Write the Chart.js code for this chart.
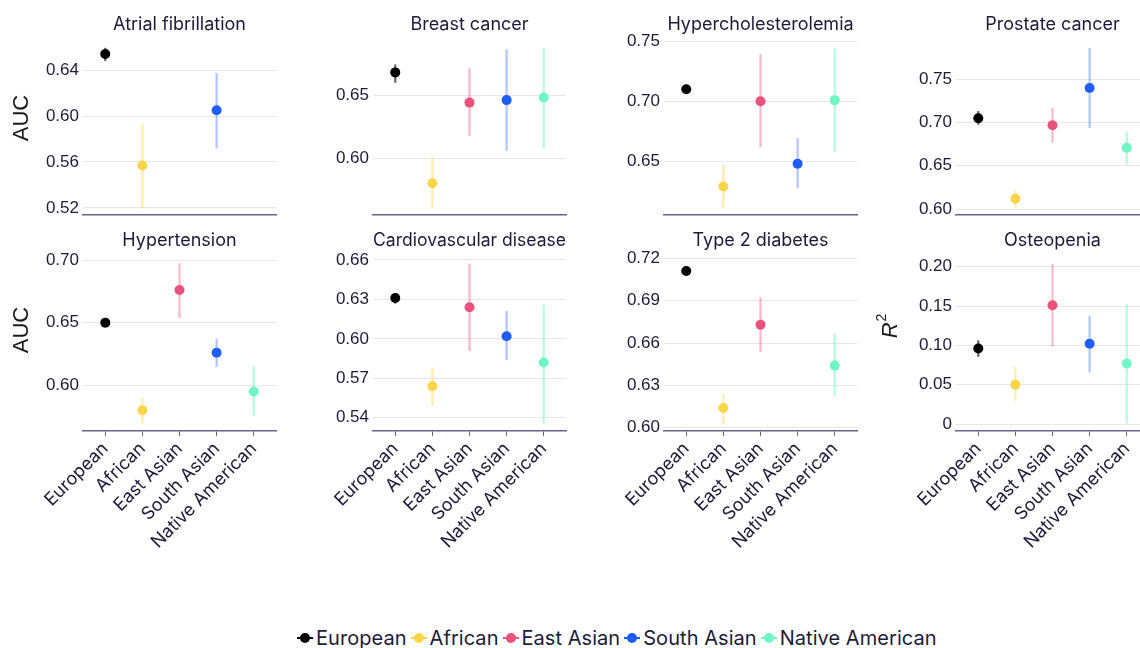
<!DOCTYPE html>
<html>
<head>
<meta charset="utf-8">
<title>Prediction accuracy by ancestry</title>
<script src="https://cdn.jsdelivr.net/npm/chart.js@4.4.1/dist/chart.umd.min.js"></script>
<style>
  html, body { margin: 0; padding: 0; background: #fff; }
  body { width: 1140px; height: 648px; overflow: hidden; position: relative; font-family: Inter, "Noto Sans", sans-serif; }
  canvas { position: absolute; }
  #legend { position: absolute; left: 297px; top: 624px; white-space: nowrap; font-size: 20px; color: #1c1c3a; line-height: 26px; letter-spacing: 0.05px; }
  #legend .item { display: inline-flex; align-items: center; margin-right: 4px; }
  #legend .mk { position: relative; display: inline-block; width: 16px; height: 12px; margin-right: 3px; }
  #legend .mk::before { content: ''; position: absolute; left: 0; right: 0; top: 5px; height: 2px; background: var(--c); }
  #legend .mk::after { content: ''; position: absolute; left: 3px; top: 1px; width: 10px; height: 10px; border-radius: 50%; background: var(--c); }
</style>
</head>
<body>
<div id="legend"></div>
<script>
// groups shown on every panel
const groups = ['European', 'African', 'East Asian', 'South Asian', 'Native American'];
const groupColors = ['#000000', '#fad54a', '#e8527c', '#1f5ef5', '#70f5c5'];
const barColors = ['rgba(0,0,0,0.6)', 'rgba(250,213,74,0.45)', 'rgba(232,82,124,0.4)', 'rgba(31,94,245,0.35)', 'rgba(112,245,197,0.5)'];

// Atrial fibrillation (AUC)
const afMean = [0.654, 0.557, null, 0.605, null];
const afLow  = [0.648, 0.520, null, 0.572, null];
const afHigh = [0.659, 0.593, null, 0.637, null];
const afTicks = [0.52, 0.56, 0.60, 0.64];

// Breast cancer (AUC)
const bcMean = [0.668, 0.580, 0.644, 0.646, 0.648];
const bcLow  = [0.660, 0.561, 0.618, 0.606, 0.608];
const bcHigh = [0.674, 0.600, 0.671, 0.686, 0.687];
const bcTicks = [0.60, 0.65];

// Hypercholesterolemia (AUC)
const hcMean = [0.710, 0.629, 0.700, 0.648, 0.701];
const hcLow  = [0.708, 0.612, 0.662, 0.628, 0.658];
const hcHigh = [0.712, 0.647, 0.739, 0.669, 0.744];
const hcTicks = [0.65, 0.70, 0.75];

// Prostate cancer (AUC)
const pcMean = [0.705, 0.612, 0.697, 0.740, 0.671];
const pcLow  = [0.698, 0.602, 0.677, 0.694, 0.652];
const pcHigh = [0.713, 0.621, 0.717, 0.786, 0.689];
const pcTicks = [0.60, 0.65, 0.70, 0.75];

// Hypertension (AUC)
const htMean = [0.650, 0.580, 0.676, 0.626, 0.595];
const htLow  = [0.648, 0.570, 0.654, 0.615, 0.576];
const htHigh = [0.652, 0.590, 0.697, 0.637, 0.615];
const htTicks = [0.60, 0.65, 0.70];

// Cardiovascular disease (AUC)
const cvMean = [0.631, 0.564, 0.624, 0.602, 0.582];
const cvLow  = [0.627, 0.549, 0.591, 0.584, 0.536];
const cvHigh = [0.634, 0.578, 0.657, 0.621, 0.626];
const cvTicks = [0.54, 0.57, 0.60, 0.63, 0.66];

// Type 2 diabetes (AUC)
const t2Mean = [0.711, 0.614, 0.673, null, 0.644];
const t2Low  = [0.709, 0.603, 0.654, null, 0.623];
const t2High = [0.713, 0.624, 0.692, null, 0.666];
const t2Ticks = [0.60, 0.63, 0.66, 0.69, 0.72];

// Osteopenia (R^2)
const osMean = [0.096, 0.050, 0.151, 0.102, 0.077];
const osLow  = [0.086, 0.030, 0.099, 0.066, 0.001];
const osHigh = [0.106, 0.072, 0.203, 0.137, 0.152];
const osTicks = [0, 0.05, 0.10, 0.15, 0.20];

const panels = [
  { title: 'Atrial fibrillation', mean: afMean, low: afLow, high: afHigh, ticks: afTicks, min: 0.5139, max: 0.6661, yTitle: 'AUC' },
  { title: 'Breast cancer', mean: bcMean, low: bcLow, high: bcHigh, ticks: bcTicks, min: 0.5548, max: 0.6937 },
  { title: 'Hypercholesterolemia', mean: hcMean, low: hcLow, high: hcHigh, ticks: hcTicks, min: 0.6053, max: 0.7511 },
  { title: 'Prostate cancer', mean: pcMean, low: pcLow, high: pcHigh, ticks: pcTicks, min: 0.5931, max: 0.7955 },
  { title: 'Hypertension', mean: htMean, low: htLow, high: htHigh, ticks: htTicks, min: 0.5635, max: 0.7032, yTitle: 'AUC' },
  { title: 'Cardiovascular disease', mean: cvMean, low: cvLow, high: cvHigh, ticks: cvTicks, min: 0.5299, max: 0.6630 },
  { title: 'Type 2 diabetes', mean: t2Mean, low: t2Low, high: t2High, ticks: t2Ticks, min: 0.5977, max: 0.7216 },
  { title: 'Osteopenia', mean: osMean, low: osLow, high: osHigh, ticks: osTicks, min: -0.0089, max: 0.2136, yTitle: 'R2' }
];

// plot-area placement (left/top of each chart area)
const layout = [
  { x: 83, y: 40, tx: -61, ty: 78 }, { x: 373, y: 40 }, { x: 664, y: 40 }, { x: 956, y: 40 },
  { x: 83, y: 256, tx: -61, ty: 74 }, { x: 373, y: 256 }, { x: 664, y: 256 }, { x: 956, y: 256, tx: -65, ty: 70 }
];
const PW = 193, PH = 175, YW = 80, PR = 30, TH = 26;
const AXIS = '#66668c', GRID = '#e6e6ec', TXT = '#1c1c3a';
const FONT = 'Inter, "Noto Sans", sans-serif';

// y axis title drawn beside the plot (AUC / italic R squared)
const yTitlePlugin = {
  id: 'yTitle',
  afterDraw(chart, args, opts) {
    if (!opts.text) return;
    const { ctx, chartArea } = chart;
    ctx.save();
    ctx.translate(chartArea.left + opts.dx, chartArea.top + opts.dy);
    ctx.rotate(-Math.PI / 2);
    ctx.fillStyle = '#1a1a1a';
    ctx.textBaseline = 'middle';
    if (opts.text === 'R2') {
      ctx.font = 'italic 22px "Liberation Sans", Arial, sans-serif';
      const wR = ctx.measureText('R').width;
      ctx.font = '14px "Liberation Sans", Arial, sans-serif';
      const w2 = ctx.measureText('2').width;
      const x0 = -(wR + w2 + 1) / 2;
      ctx.font = 'italic 22px "Liberation Sans", Arial, sans-serif';
      ctx.textAlign = 'left';
      ctx.fillText('R', x0, 0);
      ctx.font = '14px "Liberation Sans", Arial, sans-serif';
      ctx.fillText('2', x0 + wR + 1, -9);
    } else {
      ctx.font = '22px "Liberation Sans", Arial, sans-serif';
      ctx.textAlign = 'center';
      ctx.fillText(opts.text, 0, 0);
    }
    ctx.restore();
  }
};

panels.forEach((p, i) => {
  const pos = layout[i];
  const bottomRow = i >= 4;
  const xh = bottomRow ? 160 : 16;
  const cv = document.createElement('canvas');
  cv.width = YW + PW + PR;
  cv.height = TH + PH + xh;
  cv.style.left = (pos.x - YW) + 'px';
  cv.style.top = (pos.y - TH) + 'px';
  document.body.appendChild(cv);

  const bars = [], dots = [], barCol = [], dotCol = [];
  p.mean.forEach((v, k) => {
    if (v == null) return;
    bars.push({ x: k, y: [p.low[k], p.high[k]] });
    dots.push({ x: k, y: v });
    barCol.push(barColors[k]);
    dotCol.push(groupColors[k]);
  });

  new Chart(cv, {
    type: 'bar',
    data: {
      datasets: [
        { type: 'scatter', data: dots, pointRadius: 5, pointHoverRadius: 5, pointBorderWidth: 0, pointBackgroundColor: dotCol, order: 0 },
        { type: 'bar', data: bars, backgroundColor: barCol, barThickness: 1.6, borderWidth: 0, order: 1 }
      ]
    },
    options: {
      responsive: false,
      animation: false,
      events: [],
      layout: { padding: { right: PR } },
      plugins: {
        legend: { display: false },
        tooltip: { enabled: false },
        title: {
          display: true, text: p.title, fullSize: false, color: TXT,
          font: { family: FONT, size: 18, weight: 'normal' },
          padding: { top: 0, bottom: 4.4 }
        },
        yTitle: { text: p.yTitle, dx: pos.tx, dy: pos.ty }
      },
      scales: {
        x: {
          type: 'linear', min: -0.6, max: 4.6, offset: false,
          afterBuildTicks: s => { s.ticks = groups.map((g, k) => ({ value: k })); },
          afterFit: s => { s.height = xh; },
          border: { display: true, color: AXIS, width: 1.5 },
          grid: { drawOnChartArea: false, drawTicks: bottomRow, tickLength: 5, tickColor: AXIS, offset: false },
          ticks: {
            display: bottomRow, minRotation: 45, maxRotation: 45, autoSkip: false, padding: 2,
            color: TXT, font: { family: FONT, size: 18 },
            callback: v => groups[v]
          }
        },
        y: {
          min: p.min, max: p.max,
          afterBuildTicks: s => { s.ticks = p.ticks.map(v => ({ value: v })); },
          afterFit: s => { s.width = YW; },
          border: { display: false },
          grid: { color: GRID, lineWidth: 1, drawTicks: false },
          ticks: {
            padding: 4, color: TXT,
            font: { family: '"Liberation Sans", Arial, sans-serif', size: 17 },
            callback: v => v === 0 ? '0' : v.toFixed(2)
          }
        }
      }
    },
    plugins: [yTitlePlugin]
  });
});

// legend row
const legend = document.getElementById('legend');
groups.forEach((g, k) => {
  const item = document.createElement('span');
  item.className = 'item';
  const mk = document.createElement('span');
  mk.className = 'mk';
  mk.style.setProperty('--c', groupColors[k]);
  item.appendChild(mk);
  item.appendChild(document.createTextNode(g));
  legend.appendChild(item);
});
</script>
</body>
</html>
